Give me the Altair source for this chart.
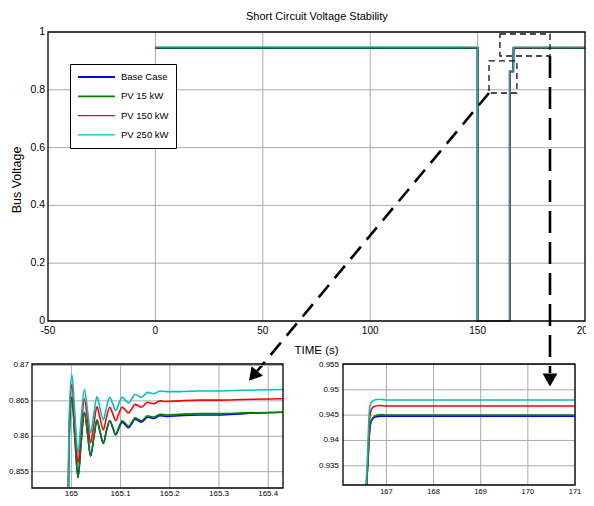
import altair as alt
import pandas as pd

FONT = "Liberation Sans"
SERIES = ["Base Case", "PV 15 kW", "PV 150 kW", "PV 250 kW"]
COLORS = ["#0000ff", "#008000", "#ff0000", "#00bfbf"]
LINE_WIDTHS = [2.0, 1.1, 2.0, 2.6]

# ---------------- main plot data ----------------
main_t = [0, 150, 150, 164.99, 164.99, 166.57, 166.75, 200]
main_v = {
    "Base Case": [0.9448, 0.9448, 0, 0, 0.8632, 0.8632, 0.9446, 0.9448],
    "PV 15 kW":  [0.9450, 0.9450, 0, 0, 0.8633, 0.8633, 0.9448, 0.9450],
    "PV 150 kW": [0.9468, 0.9468, 0, 0, 0.8652, 0.8652, 0.9466, 0.9468],
    "PV 250 kW": [0.9480, 0.9480, 0, 0, 0.8665, 0.8665, 0.9477, 0.9480],
}
main_xdom = [-50, 200]
main_ydom = [0, 1]
main_xticks = [-50, 0, 50, 100, 150, 200]
main_xlabels = ["-50", "0", "50", "100", "150", "200"]
main_yticks = [0, 0.2, 0.4, 0.6, 0.8, 1]
main_ylabels = ["0", "0.2", "0.4", "0.6", "0.8", "1"]
main_title = "Short Circuit Voltage Stability"
main_xtitle = "TIME (s)"
main_ytitle = "Bus Voltage"

# zoom boxes and arrows (main plot data units)
box_t1 = [155.3, 160.4]
box_t2 = [168.3, 183.7]
box_v1 = [0.789, 0.917]
box_v2 = [0.900, 0.993]
arrow_t1 = [155.3, 183.7]
arrow_v1 = [0.789, 0.917]
arrow_t2 = [47.4, 183.7]
arrow_v2 = [-0.173, -0.180]
head_t = [45.5, 183.7]
head_v = [-0.190, -0.204]

# ---------------- zoom 1 (recovery oscillation) ----------------
z1_t = [164.994, 164.995, 165.001, 165.007, 165.0135, 165.020, 165.0264, 165.033,
        165.039, 165.046, 165.052, 165.058, 165.065, 165.071, 165.078, 165.084,
        165.090, 165.097, 165.103, 165.110, 165.116, 165.123, 165.129, 165.136,
        165.142, 165.155, 165.167, 165.180, 165.193, 165.22, 165.26, 165.30,
        165.35, 165.43]
z1_v = {
    "Base Case": [0.800, 0.8585, 0.8655, 0.8600, 0.8542, 0.8593, 0.8634, 0.8603,
                  0.8572, 0.8600, 0.8623, 0.8607, 0.8590, 0.8607, 0.8622, 0.8612,
                  0.8602, 0.8612, 0.8620, 0.8616, 0.8612, 0.8618, 0.8624, 0.8622,
                  0.8620, 0.8627, 0.8625, 0.8629, 0.8628, 0.8629, 0.8630, 0.8630,
                  0.8632, 0.8634],
    "PV 15 kW":  [0.800, 0.8585, 0.8655, 0.8600, 0.8542, 0.8593, 0.8634, 0.8603,
                  0.8572, 0.8600, 0.8623, 0.8607, 0.8590, 0.8607, 0.8622, 0.8613,
                  0.8603, 0.8614, 0.8622, 0.8618, 0.8614, 0.8620, 0.8626, 0.8624,
                  0.8622, 0.8629, 0.8627, 0.8631, 0.8630, 0.8631, 0.8632, 0.8632,
                  0.8633, 0.8634],
    "PV 150 kW": [0.800, 0.8600, 0.8673, 0.8618, 0.8562, 0.8612, 0.8653, 0.8622,
                  0.8591, 0.8619, 0.8642, 0.8626, 0.8609, 0.8626, 0.8641, 0.8632,
                  0.8622, 0.8633, 0.8641, 0.8637, 0.8633, 0.8639, 0.8645, 0.8643,
                  0.8641, 0.8648, 0.8646, 0.8650, 0.8649, 0.8650, 0.8651, 0.8651,
                  0.8652, 0.8653],
    "PV 250 kW": [0.800, 0.8615, 0.8687, 0.8632, 0.8575, 0.8626, 0.8666, 0.8636,
                  0.8605, 0.8633, 0.8656, 0.8640, 0.8623, 0.8640, 0.8655, 0.8646,
                  0.8636, 0.8647, 0.8655, 0.8651, 0.8647, 0.8653, 0.8659, 0.8657,
                  0.8655, 0.8662, 0.8660, 0.8664, 0.8663, 0.8663, 0.8664, 0.8664,
                  0.8665, 0.8666],
}
z1_xdom = [164.92, 165.43]
z1_ydom = [0.8527, 0.8702]
z1_xticks = [165, 165.1, 165.2, 165.3, 165.4]
z1_xlabels = ["165", "165.1", "165.2", "165.3", "165.4"]
z1_yticks = [0.855, 0.86, 0.865, 0.87]
z1_ylabels = ["0.855", "0.86", "0.865", "0.87"]

# ---------------- zoom 2 (final rise) ----------------
z2_t = {
    "Base Case": [166.58, 166.61, 166.64, 166.68, 166.75, 166.90, 171.0],
    "PV 15 kW":  [166.58, 166.61, 166.64, 166.68, 166.75, 166.88, 167.0, 171.0],
    "PV 150 kW": [166.575, 166.61, 166.64, 166.67, 166.72, 166.85, 167.0, 171.0],
    "PV 250 kW": [166.57, 166.60, 166.63, 166.65, 166.70, 166.80, 166.90, 167.0, 171.0],
}
z2_v = {
    "Base Case": [0.925, 0.936, 0.9413, 0.9438, 0.9446, 0.9448, 0.9448],
    "PV 15 kW":  [0.925, 0.936, 0.9415, 0.9440, 0.9448, 0.9451, 0.9450, 0.9450],
    "PV 150 kW": [0.925, 0.937, 0.9435, 0.9458, 0.9466, 0.9469, 0.9468, 0.9468],
    "PV 250 kW": [0.925, 0.937, 0.9445, 0.9468, 0.9477, 0.9481, 0.9481, 0.9480, 0.9480],
}
z2_xdom = [166.08, 171.0]
z2_ydom = [0.9312, 0.9551]
z2_xticks = [167, 168, 169, 170, 171]
z2_xlabels = ["167", "168", "169", "170", "171"]
z2_yticks = [0.935, 0.94, 0.945, 0.95, 0.955]
z2_ylabels = ["0.935", "0.94", "0.945", "0.95", "0.955"]

W, H = 578, 466
GRID = "#ababab"


def long_df(times, values):
    rows = []
    for s in SERIES:
        ts = times[s] if isinstance(times, dict) else times
        for i, (t, v) in enumerate(zip(ts, values[s])):
            rows.append({"series": s, "t": t, "v": v, "i": i})
    return pd.DataFrame(rows)


LEG = alt.Legend(orient="none", legendX=62, legendY=32, title=None,
                 symbolType="stroke", symbolSize=1369, clipHeight=12,
                 rowPadding=7.3, padding=7, strokeColor="black", fillColor="white",
                 labelFont=FONT, labelFontSize=9.5, labelColor="black", labelOffset=5)

COLOR = alt.Color("series:N", scale=alt.Scale(domain=SERIES, range=COLORS), legend=LEG)
COLOR_NOLEG = alt.Color("series:N", scale=alt.Scale(domain=SERIES, range=COLORS), legend=None)
SW = alt.StrokeWidth("series:N", scale=alt.Scale(domain=SERIES, range=LINE_WIDTHS), legend=LEG)


def X(f, s):
    return alt.X(f, type="quantitative", scale=s, axis=None)


def Y(f, s):
    return alt.Y(f, type="quantitative", scale=s, axis=None)


def panel(df, xs, ys, xdom, ydom, xgrid, ygrid, xticks, xlabels, yticks, ylabels,
          fs_x, fs_y, xdy, ydx, main=False, extra=()):
    gx = alt.Chart(pd.DataFrame({"t": xgrid, "lo": ydom[0], "hi": ydom[1]})).mark_rule(
        color=GRID, strokeWidth=1).encode(x=X("t", xs), y=Y("lo", ys), y2="hi:Q")
    gy = alt.Chart(pd.DataFrame({"v": ygrid, "lo": xdom[0], "hi": xdom[1]})).mark_rule(
        color=GRID, strokeWidth=1).encode(y=Y("v", ys), x=X("lo", xs), x2="hi:Q")
    line_layers = []
    for s in SERIES:  # one layer per series so the last series is drawn on top
        sub = df[df["series"] == s]
        enc = dict(x=X("t", xs), y=Y("v", ys), order=alt.Order("i:Q"))
        if main:
            enc.update(color=COLOR, strokeWidth=SW)
            line_layers.append(alt.Chart(sub).mark_line().encode(**enc))
        else:
            enc.update(color=COLOR_NOLEG)
            line_layers.append(alt.Chart(sub).mark_line(
                strokeWidth=1.6, interpolate="monotone").encode(**enc))
    frame = alt.Chart(pd.DataFrame({"x1": [xdom[0]], "x2": [xdom[1]],
                                    "y1": [ydom[0]], "y2": [ydom[1]]})).mark_rect(
        fillOpacity=0, stroke="black", strokeWidth=1.3).encode(
        x=X("x1", xs), x2="x2:Q", y=Y("y1", ys), y2="y2:Q")
    xl = alt.Chart(pd.DataFrame({"t": xticks, "lab": xlabels, "b": ydom[0]})).mark_text(
        baseline="top", align="center", dy=xdy, font=FONT, fontSize=fs_x, color="black").encode(
        x=X("t", xs), y=Y("b", ys), text="lab:N")
    yl = alt.Chart(pd.DataFrame({"v": yticks, "lab": ylabels, "b": xdom[0]})).mark_text(
        baseline="middle", align="right", dx=-ydx, font=FONT, fontSize=fs_y, color="black").encode(
        x=X("b", xs), y=Y("v", ys), text="lab:N")
    return alt.layer(gx, gy, *line_layers, frame, xl, yl, *extra)


# ---- main panel ----
XM = alt.Scale(domain=main_xdom, range=[40, 577], nice=False, zero=False)
YM = alt.Scale(domain=main_ydom, range=[289, 0], nice=False, zero=False)

boxes = alt.Chart(pd.DataFrame({"x1": box_t1, "x2": box_t2, "y1": box_v1, "y2": box_v2})).mark_rect(
    fillOpacity=0, stroke="#111111", strokeWidth=1.3, strokeDash=[6, 4]).encode(
    x=X("x1", XM), x2="x2:Q", y=Y("y1", YM), y2="y2:Q")

arr_df = pd.DataFrame({"t": arrow_t1, "v": arrow_v1, "t2": arrow_t2, "v2": arrow_v2})
arrow_diag = alt.Chart(arr_df.iloc[[0]]).mark_rule(
    color="black", strokeWidth=2.6, strokeDash=[16, 9]).encode(
    x=X("t", XM), y=Y("v", YM), x2="t2:Q", y2="v2:Q")
arrow_vert = alt.Chart(arr_df.iloc[[1]]).mark_rule(
    color="black", strokeWidth=2.6, strokeDash=[22, 9]).encode(
    x=X("t", XM), y=Y("v", YM), x2="t2:Q", y2="v2:Q")
head_df = pd.DataFrame({"t": head_t, "v": head_v})
head_diag = alt.Chart(head_df.iloc[[0]]).mark_point(
    shape="triangle-up", filled=True, color="black", opacity=1, size=220, angle=220).encode(
    x=X("t", XM), y=Y("v", YM))
head_vert = alt.Chart(head_df.iloc[[1]]).mark_point(
    shape="triangle-down", filled=True, color="black", opacity=1, size=220).encode(
    x=X("t", XM), y=Y("v", YM))

xtitle = alt.Chart(pd.DataFrame({"t": [sum(main_xdom) / 2], "v": [main_ydom[0]],
                                 "lab": [main_xtitle]})).mark_text(
    baseline="top", align="center", dy=24, font=FONT, fontSize=11.5, color="black").encode(
    x=X("t", XM), y=Y("v", YM), text="lab:N")
ytitle = alt.Chart(pd.DataFrame({"lab": [main_ytitle]})).mark_text(
    baseline="middle", align="center", angle=270, font=FONT, fontSize=12.5, color="black").encode(
    x=alt.value(9), y=alt.value(148), text="lab:N")

main = panel(long_df(main_t, main_v), XM, YM, main_xdom, main_ydom,
             [0, 50, 100, 150], [0.2, 0.4, 0.6, 0.8],
             main_xticks, main_xlabels, main_yticks, main_ylabels,
             10, 10.5, 5, 3, main=True,
             extra=(boxes, arrow_diag, arrow_vert, head_diag, head_vert, xtitle, ytitle))

# ---- zoom panels ----
X1 = alt.Scale(domain=z1_xdom, range=[24, 275], nice=False, zero=False, clamp=True)
Y1 = alt.Scale(domain=z1_ydom, range=[456, 332], nice=False, zero=False, clamp=True)
z1 = panel(long_df(z1_t, z1_v), X1, Y1, z1_xdom, z1_ydom, z1_xticks, z1_yticks,
           z1_xticks, z1_xlabels, z1_yticks, z1_ylabels, 8, 8, 2, 3)

X2 = alt.Scale(domain=z2_xdom, range=[335, 567], nice=False, zero=False, clamp=True)
Y2 = alt.Scale(domain=z2_ydom, range=[453, 332], nice=False, zero=False, clamp=True)
z2 = panel(long_df(z2_t, z2_v), X2, Y2, z2_xdom, z2_ydom, z2_xticks, z2_yticks,
           z2_xticks, z2_xlabels, z2_yticks, z2_ylabels, 7.5, 8, 3, 4)

chart = alt.layer(main, z1, z2).resolve_scale(
    x="independent", y="independent"
).properties(
    width=W, height=H,
    background="white",
    padding={"left": 0, "top": 24, "right": 0, "bottom": 0},
    autosize=alt.AutoSizeParams(type="none"),
    title=alt.TitleParams(main_title, font=FONT, fontSize=11,
                          fontWeight="normal", color="black", anchor="start",
                          frame="group", dx=238, offset=5),
).configure_view(stroke="transparent", strokeWidth=0)

chart.save("out.html", embed_options={"renderer": "svg", "actions": False})
